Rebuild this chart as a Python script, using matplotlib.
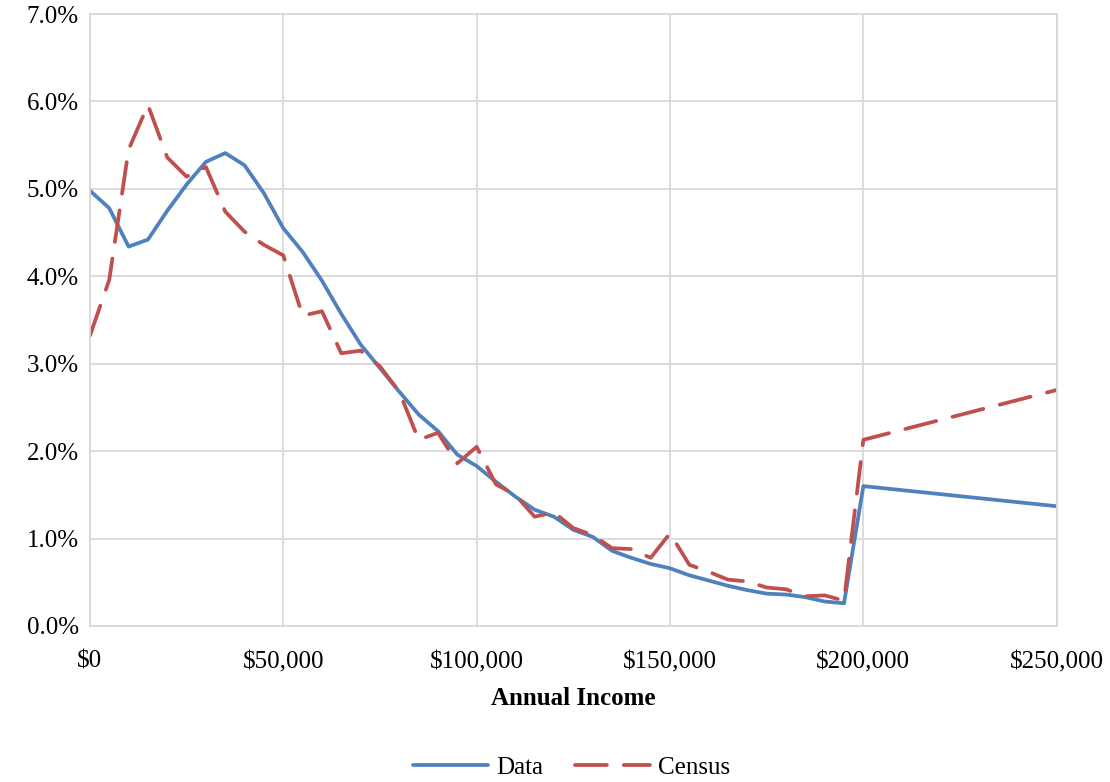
import matplotlib
matplotlib.use("Agg")
import matplotlib.pyplot as plt
from matplotlib.ticker import FuncFormatter, MultipleLocator

plt.rcParams['font.family'] = ['Liberation Serif', 'DejaVu Serif']

# income brackets (lower bound), $5k steps up to 195k, then 200k and 250k
income = list(range(0, 200000, 5000)) + [200000, 250000]

data = [4.98, 4.78, 4.34, 4.42, 4.75, 5.05, 5.31, 5.41, 5.27, 4.95,
        4.55, 4.28, 3.95, 3.57, 3.22, 2.95, 2.68, 2.42, 2.23, 1.96,
        1.83, 1.65, 1.48, 1.33, 1.25, 1.10, 1.02, 0.86, 0.78, 0.71,
        0.66, 0.58, 0.52, 0.46, 0.41, 0.37, 0.36, 0.33, 0.28, 0.26,
        1.60, 1.37]

census = [3.32, 3.96, 5.45, 5.96, 5.36, 5.14, 5.25, 4.74, 4.51, 4.36,
          4.24, 3.55, 3.60, 3.12, 3.15, 2.97, 2.68, 2.13, 2.21, 1.86,
          2.05, 1.62, 1.50, 1.25, 1.30, 1.12, 1.04, 0.89, 0.88, 0.78,
          1.06, 0.70, 0.62, 0.53, 0.51, 0.44, 0.42, 0.34, 0.35, 0.29,
          2.13, 2.70]

fig = plt.figure(figsize=(11.1, 7.82), dpi=100)
ax = fig.add_axes([0.081, 0.1995, 0.871, 0.7825])

ax.plot(income, data, color='#4F81BD', linewidth=2.7, label='Data',
        solid_joinstyle='round', solid_capstyle='round')
ax.plot(income, census, color='#C0504D', linewidth=2.7, label='Census',
        dashes=(8.5, 4.5), dash_capstyle='round', dash_joinstyle='round')

ax.set_xlim(0, 250000)
ax.set_ylim(0, 7)
ax.xaxis.set_major_locator(MultipleLocator(50000))
ax.yaxis.set_major_locator(MultipleLocator(1))
ax.xaxis.set_major_formatter(FuncFormatter(lambda v, p: '${:,.0f}'.format(v)))
ax.yaxis.set_major_formatter(FuncFormatter(lambda v, p: '{:.1f}%'.format(v)))

ax.grid(True, color='#D9D9D9', linewidth=1.3)
ax.set_axisbelow(True)
for s in ax.spines.values():
    s.set_color('#D9D9D9')
    s.set_linewidth(1.3)
ax.tick_params(length=0, labelsize=18)
ax.tick_params(axis='x', pad=18)
ax.tick_params(axis='y', pad=8)

ax.set_xlabel('Annual Income', fontsize=18, fontweight='bold', labelpad=10)

fig.legend(loc='center', bbox_to_anchor=(0.515, 0.018), ncol=2, frameon=False,
           fontsize=18, handlelength=3.0, columnspacing=1.3, handletextpad=0.3)

fig.savefig('out.png', dpi=100)
